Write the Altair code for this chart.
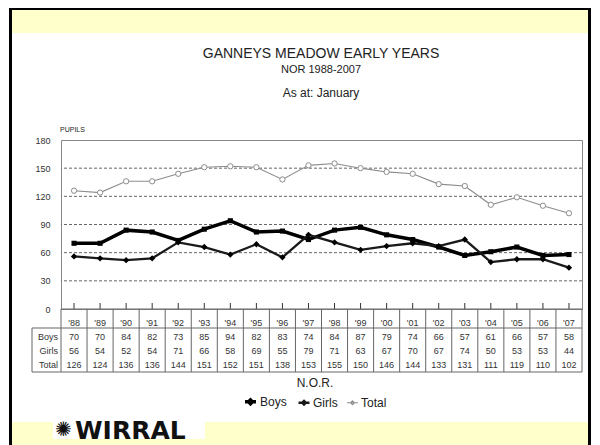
import altair as alt
import pandas as pd

years = ["'88", "'89", "'90", "'91", "'92", "'93", "'94", "'95", "'96", "'97",
         "'98", "'99", "'00", "'01", "'02", "'03", "'04", "'05", "'06", "'07"]
boys = [70, 70, 84, 82, 73, 85, 94, 82, 83, 74, 84, 87, 79, 74, 66, 57, 61, 66, 57, 58]
girls = [56, 54, 52, 54, 71, 66, 58, 69, 55, 79, 71, 63, 67, 70, 67, 74, 50, 53, 53, 44]
total = [126, 124, 136, 136, 144, 151, 152, 151, 138, 153, 155, 150, 146, 144, 133, 131, 111, 119, 110, 102]
series = ["Boys", "Girls", "Total"]
y_ticks = [0, 30, 60, 90, 120, 150, 180]
grid_vals = [30, 60, 90, 120, 150]

FONT = "Liberation Sans"
W, H = 521, 169

rows = []
for s, vals in zip(series, [boys, girls, total]):
    for yr, v in zip(years, vals):
        rows.append({"year": yr, "series": s, "value": v})
df = pd.DataFrame(rows)
yr_df = pd.DataFrame({"year": years})
grid_df = pd.DataFrame({"value": grid_vals})
one = pd.DataFrame({"a": [0]})

xscale = alt.Scale(type="band", domain=years, paddingInner=0, paddingOuter=0)
X = alt.X("year:O", sort=years, scale=xscale, axis=None)
X0 = alt.X("year:O", sort=years, scale=xscale, axis=None, bandPosition=0)
yaxis = alt.Axis(values=y_ticks, grid=False, ticks=False, domain=False, labelPadding=11,
                 labelFontSize=9, labelColor="#333333", labelFont=FONT, title=None, zindex=1)
Y = alt.Y("value:Q", scale=alt.Scale(domain=[0, 180], nice=False), axis=yaxis)


def rect(x1, x2, y1, y2, color):
    return alt.Chart(one).mark_rect(color=color).encode(
        x=alt.value(x1), x2=alt.value(x2), y=alt.value(y1), y2=alt.value(y2))


def label(txt, x, y, size, align="center", color="#222222", weight="normal", font=FONT):
    return alt.Chart(one).mark_text(text=txt, fontSize=size, align=align, color=color,
                                    fontWeight=weight, font=font, baseline="middle").encode(
        x=alt.value(x), y=alt.value(y))


def hrule(x1, x2, y, color="#666666"):
    return alt.Chart(one).mark_rule(color=color, strokeWidth=1).encode(
        x=alt.value(x1), x2=alt.value(x2), y=alt.value(y))


# decorations (frame + yellow bands)
deco = [
    rect(-49, 527, -130, -107, "#ffffcc"),
    rect(-49, 527, 282, 305, "#ffffcc"),
    rect(-52, -49, -132, 305, "#000000"),
    rect(527, 530, -132, 305, "#000000"),
    rect(-52, 530, -132, -130, "#000000"),
]

titles = [
    label("GANNEYS MEADOW EARLY YEARS", 260, -86, 14),
    label("NOR  1988-2007", 260, -70, 11),
    label("As at: January", 260, -47, 12),
    label("PUPILS", -1, -10, 7, align="left"),
    rect(-8, 144, 281, 299, "#ffffff"),
    label("✺", -6, 290, 20, align="left", color="#111111", font="DejaVu Sans"),
    label("WIRRAL", 14, 291, 25, align="left", color="#111111", weight="bold", font="DejaVu Sans"),
]

grid = alt.Chart(grid_df).mark_rule(color="#666666", strokeDash=[3, 2], strokeWidth=1).encode(y=Y)

legend = alt.Legend(title="N.O.R.", orient="none", legendX=182, legendY=238, direction="horizontal",
                    titleAnchor="middle", titleOrient="top", titleFontSize=12, titleFontWeight="normal",
                    titleFont=FONT, titleColor="#222222", labelFont=FONT, labelFontSize=12,
                    labelColor="#222222", symbolType="M-1,0H1M0,-0.35L0.35,0L0,0.35L-0.35,0Z",
                    symbolSize=120, columnPadding=6, labelOffset=2, titlePadding=4)

lines = alt.Chart(df).mark_line().encode(
    x=X, y=Y,
    color=alt.Color("series:N", scale=alt.Scale(domain=series, range=["#000000", "#1a1a1a", "#8c8c8c"]),
                    legend=legend),
    strokeWidth=alt.StrokeWidth("series:N", scale=alt.Scale(domain=series, range=[3.5, 1.1, 1.1]),
                                legend=legend),
)

pts_boys = alt.Chart(df).transform_filter(alt.datum.series == "Boys").mark_square(
    size=26, color="#000000", opacity=1).encode(x=X, y=Y)
pts_girls = alt.Chart(df).transform_filter(alt.datum.series == "Girls").mark_point(
    shape="diamond", size=40, filled=True, color="#000000", opacity=1).encode(x=X, y=Y)
pts_total = alt.Chart(df).transform_filter(alt.datum.series == "Total").mark_point(
    shape="circle", size=28, fill="#ffffff", fillOpacity=1, stroke="#8c8c8c", strokeWidth=1,
    opacity=1).encode(x=X, y=Y)

ticks = alt.Chart(yr_df).mark_rule(color="#333333").encode(x=X, y=alt.value(163), y2=alt.value(169))

# data table
vlines = alt.Chart(yr_df).mark_rule(color="#666666").encode(x=X0, y=alt.value(169), y2=alt.value(232))
table_lines = [
    vlines,
    alt.Chart(one).mark_rule(color="#666666").encode(x=alt.value(W), y=alt.value(169), y2=alt.value(232)),
    alt.Chart(one).mark_rule(color="#666666").encode(x=alt.value(-29), y=alt.value(188), y2=alt.value(232)),
    hrule(0, W, 169),
    hrule(-29, W, 188),
    hrule(-29, W, 232),
]
header = alt.Chart(yr_df).mark_text(fontSize=9, font=FONT, color="#333333").encode(
    x=X, y=alt.value(183), text="year:N")
row_y = {"Boys": 197, "Girls": 211, "Total": 225}
table_text = [header]
for s in series:
    table_text.append(
        alt.Chart(df).transform_filter(alt.datum.series == s).mark_text(
            fontSize=9, font=FONT, color="#333333").encode(x=X, y=alt.value(row_y[s]), text="value:Q"))
    table_text.append(label(s, -3, row_y[s], 9, align="right", color="#333333"))

chart = alt.layer(
    *deco, *titles, grid, lines, pts_total, pts_girls, pts_boys, ticks, *table_lines, *table_text
).properties(
    width=W, height=H,
    autosize=alt.AutoSizeParams(type="none"),
    padding={"left": 53, "top": 132, "right": 10, "bottom": 136},
    background="#ffffff",
).configure_view(stroke="#888888", strokeWidth=1)

chart.save("out.html", embed_options={"renderer": "svg", "actions": False})
